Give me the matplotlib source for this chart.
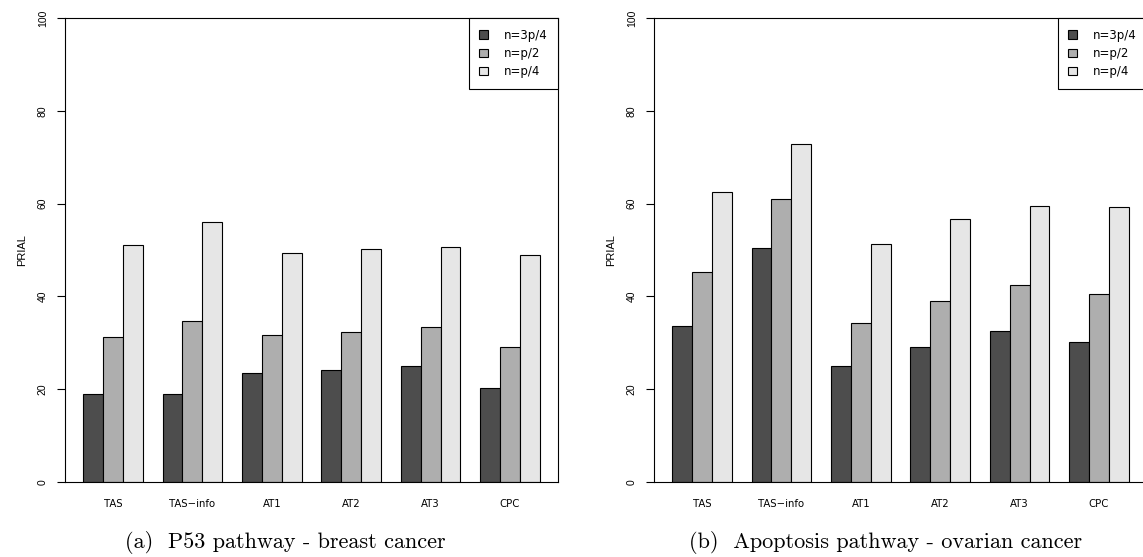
import matplotlib
matplotlib.use('Agg')
import matplotlib.pyplot as plt
from matplotlib.patches import Patch
import numpy as np

# methods on the x axis, one group of three bars each
methods = ['TAS', 'TAS\u2212info', 'AT1', 'AT2', 'AT3', 'CPC']
series_names = ['n=3p/4', 'n=p/2', 'n=p/4']
series_colors = ['#4D4D4D', '#AEAEAE', '#E6E6E6']
y_ticks = [0, 20, 40, 60, 80, 100]

# (a) P53 pathway - breast cancer
p53_3p4 = [19.0, 18.9, 23.4, 24.1, 24.9, 20.3]
p53_p2 = [31.2, 34.7, 31.7, 32.4, 33.3, 29.2]
p53_p4 = [51.1, 56.0, 49.3, 50.3, 50.6, 49.0]

# (b) Apoptosis pathway - ovarian cancer
apo_3p4 = [33.7, 50.4, 25.1, 29.2, 32.5, 30.1]
apo_p2 = [45.2, 61.0, 34.2, 39.0, 42.4, 40.6]
apo_p4 = [62.5, 72.8, 51.4, 56.7, 59.4, 59.3]

captions = ['(a)  P53 pathway - breast cancer',
            '(b)  Apoptosis pathway - ovarian cancer']

W, H = 1143, 557
WIDE = ['DejaVu Sans']          # horizontal text (page is stretched sideways)
NARROW = ['Liberation Sans', 'DejaVu Sans']  # rotated text


def draw_panel(ax, series):
    # R-style barplot(beside=TRUE): bar width 1, one empty unit between groups
    n_groups = len(methods)
    for k, (vals, col) in enumerate(zip(series, series_colors)):
        lefts = 1 + 4 * np.arange(n_groups) + k
        ax.bar(lefts, vals, width=1.0, align='edge', color=col,
               edgecolor='black', linewidth=0.8)
    ax.set_xlim(0.08, 24.92)
    ax.set_ylim(0, 100)
    ax.set_xticks(1 + 4 * np.arange(n_groups) + 1.5)
    ax.set_xticklabels(methods, fontsize=7.3, family=WIDE)
    ax.tick_params(axis='x', length=0, pad=12.5)
    ax.set_yticks(y_ticks)
    ax.set_yticklabels([str(t) for t in y_ticks], rotation=90,
                       va='center', fontsize=7.5, family=NARROW)
    ax.tick_params(axis='y', length=5.8, width=0.8, pad=6.5)
    for s in ax.spines.values():
        s.set_linewidth(0.8)
    ax.set_ylabel('PRIAL', fontsize=8, family=NARROW)
    ax.yaxis.set_label_coords(-0.077, 0.5)
    handles = [Patch(facecolor=c, edgecolor='black', linewidth=0.8)
               for c in series_colors]
    leg = ax.legend(handles, series_names, loc='upper right',
                    borderaxespad=0, fancybox=False, framealpha=1,
                    edgecolor='black', prop={'family': WIDE, 'size': 8.5},
                    handlelength=0.7, handleheight=0.7, handletextpad=1.35,
                    borderpad=0.9, labelspacing=0.45)
    leg.get_frame().set_linewidth(0.8)


fig = plt.figure(figsize=(W / 100, H / 100), dpi=100)
ax_a = fig.add_axes([65 / W, 75 / H, 493 / W, 464 / H])
ax_b = fig.add_axes([654 / W, 75 / H, 493 / W, 464 / H])

draw_panel(ax_a, [p53_3p4, p53_p2, p53_p4])
draw_panel(ax_b, [apo_3p4, apo_p2, apo_p4])

fig.text(285 / W, 1 - 543 / H, captions[0], ha='center', va='center',
         fontsize=16, family='cmr10')
fig.text(886 / W, 1 - 543 / H, captions[1], ha='center', va='center',
         fontsize=16, family='cmr10')

fig.savefig('out.png', dpi=100)
plt.close(fig)
